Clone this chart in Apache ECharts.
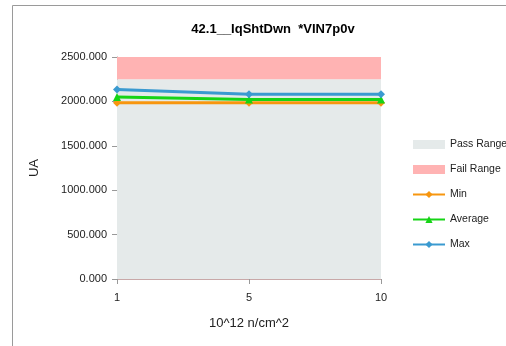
<!DOCTYPE html>
<html><head><meta charset="utf-8">
<script src="https://cdn.jsdelivr.net/npm/echarts@6/dist/echarts.min.js"></script>
<style>html,body{margin:0;padding:0;background:#fff}#c{width:506px;height:346px}</style>
</head><body><div id="c"></div>
<script>
const categories = ['1', '5', '10'];
const passRange = [2250, 2250, 2250];
const failRange = [250, 250, 250];
const minVals = [1985, 1985, 1985];
const avgVals = [2050, 2020, 2020];
const maxVals = [2135, 2080, 2080];
const yTicks = [0, 500, 1000, 1500, 2000, 2500];

const chart = echarts.init(document.getElementById('c'), null, {renderer: 'canvas'});
const font = '"Liberation Sans", Arial, sans-serif';
chart.setOption({
  animation: false,
  backgroundColor: '#fff',
  textStyle: {fontFamily: font},
  graphic: [{type: 'rect', shape: {x: 12.5, y: 5.5, width: 520, height: 360}, style: {fill: 'none', stroke: '#9a9a9a', lineWidth: 1}, silent: true, z: -1}],
  title: {text: '42.1__IqShtDwn  *VIN7p0v', left: 268, textAlign: 'center', top: 18,
    textStyle: {fontSize: 13, fontWeight: 'bold', color: '#000', fontFamily: font}},
  grid: {left: 117, right: 125, top: 57, bottom: 67},
  legend: {orient: 'vertical', left: 407, top: 134, itemGap: 14, itemWidth: 32, itemHeight: 9,
    textStyle: {fontSize: 10.5, color: '#222', fontFamily: font},
    data: [
      {name: 'Pass Range', icon: 'rect'},
      {name: 'Fail Range', icon: 'rect'},
      {name: 'Min'}, {name: 'Average'}, {name: 'Max'}
    ]},
  xAxis: {type: 'category', data: categories, boundaryGap: false,
    name: '10^12 n/cm^2', nameLocation: 'middle', nameGap: 38,
    nameTextStyle: {fontSize: 13, color: '#222'},
    axisLine: {lineStyle: {color: '#c8a8a8'}},
    axisTick: {show: true, alignWithLabel: true, length: 5, lineStyle: {color: '#999'}},
    axisLabel: {fontSize: 11, color: '#222', margin: 13}},
  yAxis: {type: 'value', min: yTicks[0], max: yTicks[yTicks.length - 1], interval: 500,
    name: 'UA', nameLocation: 'middle', nameGap: 76, nameRotate: 90,
    nameTextStyle: {fontSize: 13, color: '#222'},
    axisLine: {show: true, lineStyle: {color: '#999'}},
    axisTick: {show: true, length: 5, lineStyle: {color: '#999'}},
    splitLine: {show: false},
    axisLabel: {fontSize: 11, color: '#222', margin: 10, formatter: v => v.toFixed(3)}},
  series: [
    {name: 'Pass Range', type: 'line', stack: 'r', data: passRange, symbol: 'none',
      lineStyle: {width: 0}, itemStyle: {color: '#E5EAEA'}, areaStyle: {color: '#E5EAEA', opacity: 1}, z: 1},
    {name: 'Fail Range', type: 'line', stack: 'r', data: failRange, symbol: 'none',
      lineStyle: {width: 0}, itemStyle: {color: '#FFB3B3'}, areaStyle: {color: '#FFB3B3', opacity: 1}, z: 1},
    {name: 'Min', type: 'line', data: minVals, symbol: 'diamond', symbolSize: 8,
      itemStyle: {color: '#F7960F'}, lineStyle: {color: '#F7960F', width: 3}, z: 3},
    {name: 'Average', type: 'line', data: avgVals, symbol: 'triangle', symbolSize: 8,
      itemStyle: {color: '#16D416'}, lineStyle: {color: '#16D416', width: 3}, z: 4},
    {name: 'Max', type: 'line', data: maxVals, symbol: 'diamond', symbolSize: 8,
      itemStyle: {color: '#3A9AD0'}, lineStyle: {color: '#3A9AD0', width: 3}, z: 5}
  ]
});
</script></body></html>
